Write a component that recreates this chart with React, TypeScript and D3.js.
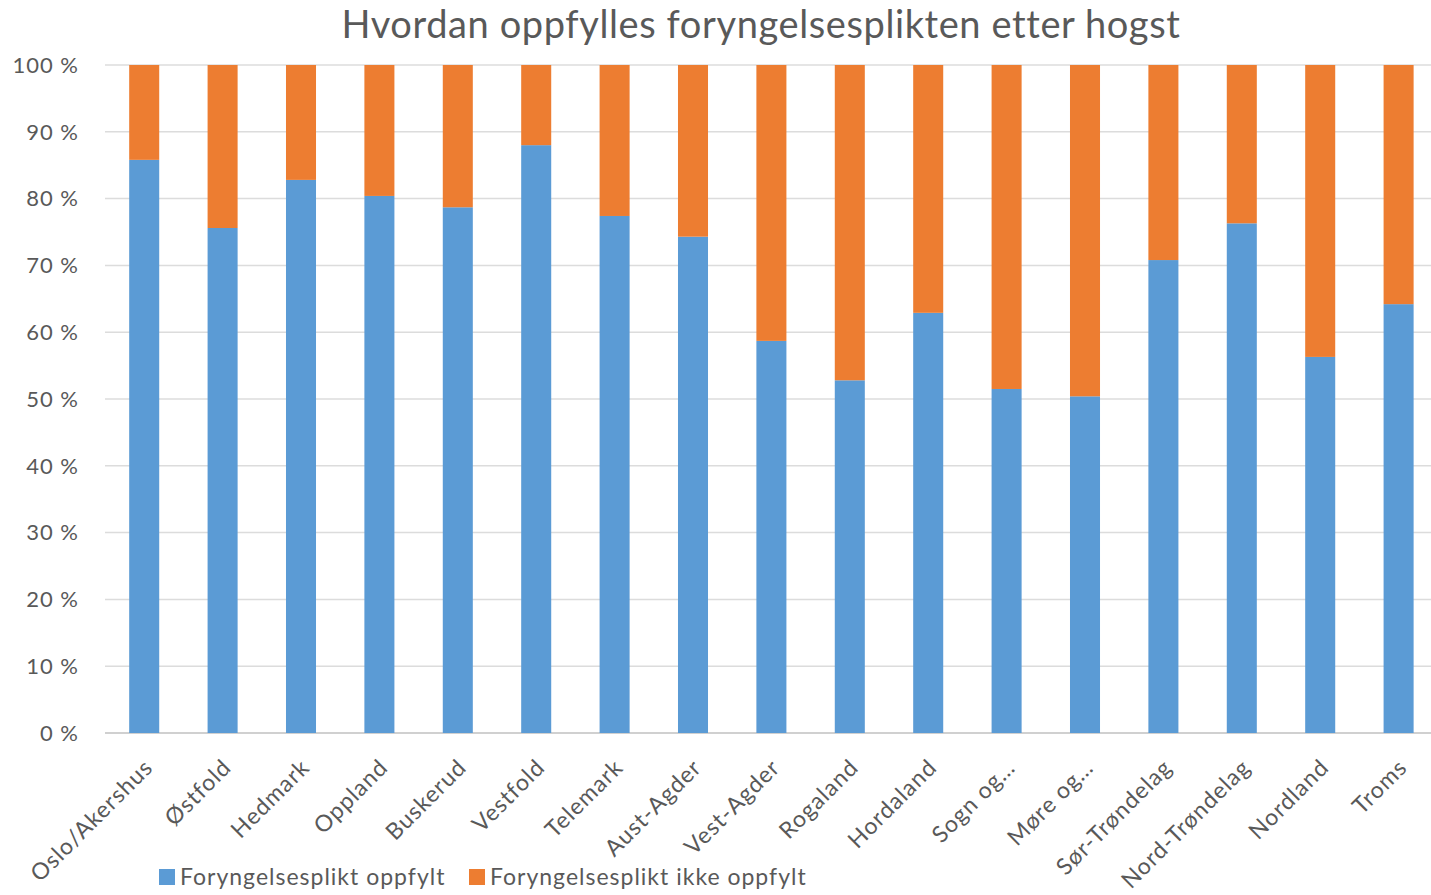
import React from "react";
import * as d3 from "d3";

const WIDTH = 1431;
const HEIGHT = 895;
const MARGIN = { top: 65, right: 0, bottom: 162, left: 105 };

const categories = [
  "Oslo/Akershus",
  "Østfold",
  "Hedmark",
  "Oppland",
  "Buskerud",
  "Vestfold",
  "Telemark",
  "Aust-Agder",
  "Vest-Agder",
  "Rogaland",
  "Hordaland",
  "Sogn og…",
  "Møre og…",
  "Sør-Trøndelag",
  "Nord-Trøndelag",
  "Nordland",
  "Troms",
];

// share (%) where the obligation was fulfilled
const oppfylt = [85.8, 75.6, 82.8, 80.4, 78.7, 88.0, 77.4, 74.3, 58.7, 52.8, 62.9, 51.5, 50.4, 70.8, 76.3, 56.3, 64.2];
// remainder up to 100 %
const ikkeOppfylt = oppfylt.map((v) => 100 - v);

const seriesNames = ["Foryngelsesplikt oppfylt", "Foryngelsesplikt ikke oppfylt"];
const colors = ["#5b9bd5", "#ed7d31"];
const yTicks = [0, 10, 20, 30, 40, 50, 60, 70, 80, 90, 100];

const FONT = "Lato, 'Open Sans', sans-serif";
const TEXT = "#595959";

export default function App() {
  const boundsHeight = HEIGHT - MARGIN.top - MARGIN.bottom;
  const plotBottom = MARGIN.top + boundsHeight;

  const x = d3
    .scaleBand()
    .domain(categories)
    .range([MARGIN.left, MARGIN.left + 17 * 78.4])
    .paddingInner(0.617)
    .paddingOuter(0.3085);

  const y = d3.scaleLinear().domain([0, 100]).range([plotBottom, MARGIN.top]);

  const rows = categories.map((c, i) => ({ name: c, a: oppfylt[i], b: ikkeOppfylt[i] }));
  const stack = d3.stack<any>().keys(["a", "b"])(rows);

  return (
    <svg width={WIDTH} height={HEIGHT} style={{ position: "absolute", left: 0, top: 0, background: "#fff" }}>
      <text
        x={761}
        y={38}
        textAnchor="middle"
        fontFamily={FONT}
        fontSize={38}
        letterSpacing={0.6}
        fill={TEXT}
      >
        Hvordan oppfylles foryngelsesplikten etter hogst
      </text>

      {yTicks.map((t) => (
        <g key={t}>
          <line
            x1={MARGIN.left}
            x2={WIDTH}
            y1={y(t)}
            y2={y(t)}
            stroke={t === 0 ? "#d0d0d0" : "#dcdcdc"}
            strokeWidth={t === 0 ? 2 : 1.5}
          />
          <text
            x={79}
            y={y(t)}
            dy="0.35em"
            textAnchor="end"
            fontFamily={FONT}
            fontSize={22}
            letterSpacing={1}
            fill={TEXT}
          >
            {`${t} %`}
          </text>
        </g>
      ))}

      {stack.map((s, si) => (
        <g key={si} fill={colors[si]}>
          {s.map((d, i) => (
            <rect
              key={i}
              x={x(categories[i])}
              width={x.bandwidth()}
              y={y(d[1])}
              height={y(d[0]) - y(d[1])}
            />
          ))}
        </g>
      ))}

      {categories.map((c) => {
        const cx = (x(c) as number) + x.bandwidth() / 2 + 10;
        const cy = plotBottom + 36;
        return (
          <text
            key={c}
            transform={`translate(${cx},${cy}) rotate(-45)`}
            textAnchor="end"
            fontFamily={FONT}
            fontSize={23}
            letterSpacing={1}
            fill={TEXT}
          >
            {c}
          </text>
        );
      })}

      {seriesNames.map((n, i) => {
        const lx = i === 0 ? 159 : 469;
        return (
          <g key={n}>
            <rect x={lx} y={869} width={16} height={16} fill={colors[i]} />
            <text
              x={lx + 21}
              y={877}
              dy="0.35em"
              fontFamily={FONT}
              fontSize={23}
              letterSpacing={1}
              fill={TEXT}
            >
              {n}
            </text>
          </g>
        );
      })}
    </svg>
  );
}
